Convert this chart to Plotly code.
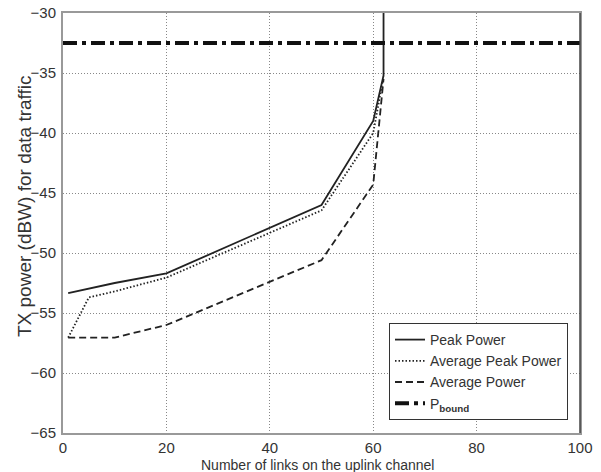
import plotly.graph_objects as go

links = [1, 5, 10, 20, 50, 60, 62, 62]
peak_power = [-53.35, -53.0, -52.5, -51.7, -46.0, -39.0, -35.2, -30.0]
links_avg_peak = [1, 5, 10, 20, 50, 60, 62]
avg_peak_power = [-57.05, -53.7, -53.2, -52.05, -46.45, -40.0, -35.3]
links_avg = [1, 10, 20, 50, 60, 62]
avg_power = [-57.05, -57.05, -56.0, -50.6, -44.3, -35.5]
p_bound_x = [0, 100]
p_bound = [-32.5, -32.5]

x_ticks = [0, 20, 40, 60, 80, 100]
y_ticks = [-65, -60, -55, -50, -45, -40, -35, -30]

font = "Liberation Sans, Arial, sans-serif"
W, H = 601, 472
L, R, T, B = 63, 21, 13, 39
PW, PH = W - L - R, H - T - B

fig = go.Figure()
fig.add_trace(go.Scatter(x=links, y=peak_power, mode="lines", name="Peak Power",
                         line=dict(color="#222", width=1.8)))
fig.add_trace(go.Scatter(x=links_avg_peak, y=avg_peak_power, mode="lines", name="Average Peak Power",
                         line=dict(color="#222", width=1.8, dash="1.5px,2px")))
fig.add_trace(go.Scatter(x=links_avg, y=avg_power, mode="lines", name="Average Power",
                         line=dict(color="#222", width=1.8, dash="7px,4px")))
fig.add_trace(go.Scatter(x=p_bound_x, y=p_bound, mode="lines", name="P<sub><b>bound</b></sub>",
                         line=dict(color="#111", width=4, dash="14px,5px,4px,5px")))

fig.update_layout(
    width=W, height=H,
    margin=dict(l=L, r=R, t=T, b=B),
    paper_bgcolor="white", plot_bgcolor="white",
    font=dict(family=font, size=15, color="#333"),
    showlegend=True,
    legend=dict(x=(568 - L) / PW, xanchor="right",
                y=(H - B - 420) / PH, yanchor="bottom",
                bgcolor="white", bordercolor="#333", borderwidth=1,
                font=dict(size=14, color="#333"), tracegroupgap=0),
    xaxis=dict(range=[0, 100], tickvals=x_ticks, showgrid=True, gridcolor="#888",
               griddash="1px,2px", gridwidth=1, showline=True, linecolor="#999", linewidth=2,
               mirror=True, zeroline=False, ticks="", ticklen=0,
               automargin=False, tickfont=dict(size=15)),
    yaxis=dict(range=[-65, -30], tickvals=y_ticks, showgrid=True, gridcolor="#888",
               griddash="1px,2px", gridwidth=1, showline=True, linecolor="#999", linewidth=2,
               mirror=True, zeroline=False, ticks="outside", ticklen=2, tickcolor="rgba(0,0,0,0)",
               automargin=False, tickfont=dict(size=15)),
)
fig.add_shape(type="line", xref="paper", yref="paper", x0=1, x1=1, y0=0, y1=1,
              line=dict(color="#444", width=1.5))
fig.add_annotation(text="TX power (dBW) for data traffic", textangle=-90,
                   xref="paper", yref="paper", showarrow=False,
                   x=(24 - L) / PW, y=(H - B - 206) / PH,
                   xanchor="center", yanchor="middle",
                   font=dict(size=19, color="#333", family=font))
fig.add_annotation(text="Number of links on the uplink channel",
                   xref="paper", yref="paper", showarrow=False,
                   x=(317.5 - L) / PW, y=-(465 - (H - B)) / PH,
                   xanchor="center", yanchor="middle",
                   font=dict(size=14, color="#333", family=font))
fig.write_html("out.html", config={"displayModeBar": False},
               post_script="document.body.style.margin='0';document.body.style.overflow='hidden';")
